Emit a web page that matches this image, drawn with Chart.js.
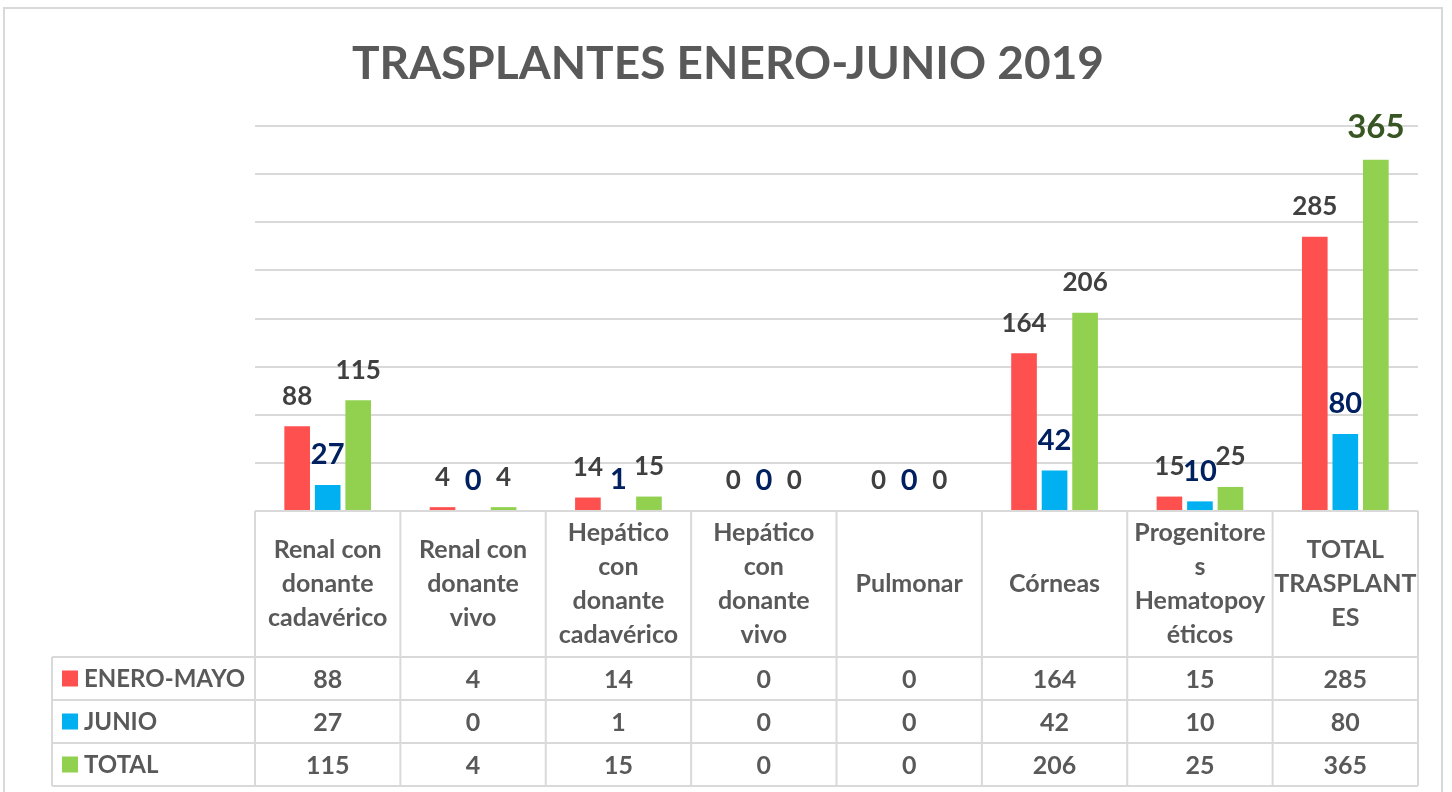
<!DOCTYPE html>
<html>
<head>
<meta charset="utf-8">
<script src="https://cdn.jsdelivr.net/npm/chart.js@4.4.1/dist/chart.umd.min.js"></script>
<style>
html,body{margin:0;padding:0;background:#fff;}
#wrap{width:1452px;height:792px;position:relative;}
</style>
</head>
<body>
<div id="wrap"><canvas id="c" width="1452" height="792"></canvas></div>
<script>
const chartTitle = "TRASPLANTES ENERO-JUNIO 2019";
const categories = [
  ["Renal con","donante","cadavérico"],
  ["Renal con","donante","vivo"],
  ["Hepático","con","donante","cadavérico"],
  ["Hepático","con","donante","vivo"],
  ["Pulmonar"],
  ["Córneas"],
  ["Progenitore","s","Hematopoy","éticos"],
  ["TOTAL","TRASPLANT","ES"]
];
const seriesNames = ["ENERO-MAYO","JUNIO","TOTAL"];
const eneroMayo = [88, 4, 14, 0, 0, 164, 15, 285];
const junio = [27, 0, 1, 0, 0, 42, 10, 80];
const total = [115, 4, 15, 0, 0, 206, 25, 365];
const seriesColors = ["#FF5050","#00B0F0","#92D050"];
const labelColors = ["#404040","#002060","#404040"];

const FONT = "Lato, 'Open Sans', sans-serif";

const tablePlugin = {
  id: 'tablePlugin',
  beforeDraw(chart){
    const ctx = chart.ctx;
    ctx.save();
    ctx.fillStyle = '#fff';
    ctx.fillRect(0,0,chart.width,chart.height);
    ctx.strokeStyle = '#D9D9D9';
    ctx.lineWidth = 2;
    ctx.strokeRect(4, 8, 1438, 820);
    // title
    ctx.fillStyle = '#595959';
    ctx.font = "bold 46px " + FONT;
    ctx.textAlign = 'center';
    ctx.textBaseline = 'middle';
    ctx.fillText(chartTitle, 728, 64);
    ctx.restore();
  },
  afterDraw(chart){
    const ctx = chart.ctx;
    const area = chart.chartArea;
    const n = categories.length;
    const colW = (area.right - area.left) / n;
    const tableLeft = 52;
    const headTop = area.bottom;
    const headBottom = 657;
    const rowH = 43;
    const rows = [headBottom, headBottom+rowH, headBottom+2*rowH, headBottom+3*rowH];
    ctx.save();
    // data labels
    const data = [eneroMayo, junio, total];
    chart.data.datasets.forEach((ds, di) => {
      const meta = chart.getDatasetMeta(di);
      meta.data.forEach((bar, j) => {
        const v = ds.data[j];
        let size = di === 1 ? 29 : 26;
        let color = labelColors[di];
        let off = 30;
        if (di === 2 && j === n-1) { size = 33; color = '#375623'; off = 32; }
        ctx.font = "bold " + size + "px " + FONT;
        ctx.fillStyle = color;
        ctx.textAlign = 'center';
        ctx.textBaseline = 'middle';
        ctx.fillText(String(v), bar.x, bar.y - off);
      });
    });
    // table grid
    ctx.strokeStyle = '#D9D9D9';
    ctx.lineWidth = 2;
    ctx.beginPath();
    for (let i = 0; i <= n; i++) {
      const x = area.left + i*colW;
      ctx.moveTo(x, headTop); ctx.lineTo(x, rows[3]);
    }
    ctx.moveTo(tableLeft, rows[0]); ctx.lineTo(tableLeft, rows[3]);
    rows.forEach(y => { ctx.moveTo(tableLeft, y); ctx.lineTo(area.right, y); });
    ctx.moveTo(area.left, headTop); ctx.lineTo(area.right, headTop);
    ctx.stroke();
    // header labels
    ctx.fillStyle = '#595959';
    ctx.font = "bold 25px " + FONT;
    ctx.textAlign = 'center';
    ctx.textBaseline = 'middle';
    const lh = 34;
    const hc = (headTop + headBottom)/2;
    categories.forEach((lines, i) => {
      const cx = area.left + (i+0.5)*colW;
      const start = hc - (lines.length-1)*lh/2;
      lines.forEach((t, k) => ctx.fillText(t, cx, start + k*lh));
    });
    // rows
    data.forEach((arr, r) => {
      const cy = (rows[r] + rows[r+1])/2;
      ctx.fillStyle = seriesColors[r];
      ctx.fillRect(62, cy - 8, 16, 16);
      ctx.fillStyle = '#595959';
      ctx.textAlign = 'left';
      ctx.font = "bold 24px " + FONT;
      ctx.fillText(seriesNames[r], 84, cy + 1);
      ctx.font = "bold 25px " + FONT;
      ctx.textAlign = 'center';
      arr.forEach((v, i) => {
        ctx.fillText(String(v), area.left + (i+0.5)*colW, cy + 1);
      });
    });
    ctx.restore();
  }
};

new Chart(document.getElementById('c'), {
  type: 'bar',
  data: {
    labels: categories.map(c => c.join(' ')),
    datasets: [
      { label: seriesNames[0], data: eneroMayo, backgroundColor: seriesColors[0] },
      { label: seriesNames[1], data: junio, backgroundColor: seriesColors[1] },
      { label: seriesNames[2], data: total, backgroundColor: seriesColors[2] }
    ]
  },
  options: {
    responsive: false,
    animation: false,
    datasets: { bar: { categoryPercentage: 0.63, barPercentage: 0.84 } },
    layout: { padding: { left: 255, right: 34, top: 126, bottom: 281 } },
    plugins: { legend: { display: false }, title: { display: false }, tooltip: { enabled: false } },
    scales: {
      x: { display: false },
      y: {
        min: 0, max: 400,
        ticks: { display: false, stepSize: 50 },
        border: { display: false },
        grid: { color: '#D9D9D9', lineWidth: 2, drawTicks: false },
        afterFit(s){ s.width = 0; }
      }
    }
  },
  plugins: [tablePlugin]
});
</script>
</body>
</html>
